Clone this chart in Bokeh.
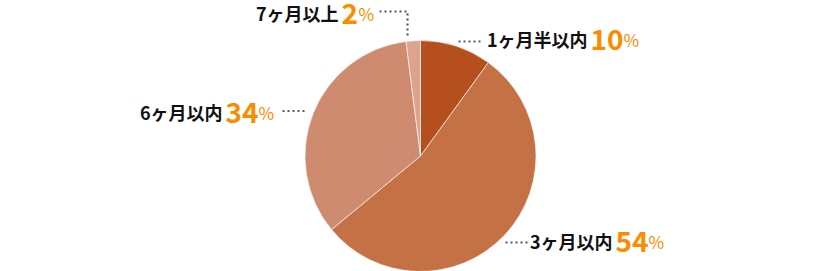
import math
from bokeh.plotting import figure
from bokeh.models import Range1d, ColumnDataSource
from bokeh.core.properties import value
from bokeh.embed import file_html
from bokeh.resources import INLINE

# Data
categories = ["1ヶ月半以内", "3ヶ月以内", "6ヶ月以内", "7ヶ月以上"]
percents = [10, 54, 34, 2]
colors = ["#b5501e", "#c47146", "#cf8b70", "#dea38b"]

W, H = 840, 271
p = figure(width=W, height=H, output_backend="svg", toolbar_location=None,
           x_range=Range1d(0, W), y_range=Range1d(0, H), min_border=0)
p.axis.visible = False
p.grid.visible = False
p.outline_line_color = None
p.background_fill_color = "white"
p.border_fill_color = "white"

def Y(y):
    return H - y

# pie
cx, cy, r = 420, 155.5, 115.5
total = sum(percents)
starts, ends = [], []
acc = 0.0
for v in percents:
    a0 = math.pi / 2 - 2 * math.pi * acc / total
    acc += v
    a1 = math.pi / 2 - 2 * math.pi * acc / total
    starts.append(a0)
    ends.append(a1)
src = ColumnDataSource(dict(start=starts, end=ends, color=colors))
p.wedge(x=cx, y=Y(cy), radius=r, radius_units="screen", start_angle="start", end_angle="end",
        direction="clock", fill_color="color", line_color="white", line_width=0.6, source=src)

# leader lines (layout)
leaders = [
    ([458, 483], [41, 41]),
    ([505, 530], [242, 242]),
    ([282, 307], [110.5, 110.5]),
    ([379, 407, 407], [11, 11, 37]),
]
for xs, ys in leaders:
    p.line(xs, [Y(v) for v in ys], line_color="#4f566b", line_width=2.2,
           line_dash="2 3")

# label layout: (number x, baseline y)
anchors = [(591, 47), (616, 249), (226, 120), (342, 21)]
SHIFT = 9
FONT = value("Noto Sans CJK JP")
ORANGE = "#fa8c00"
for cat, v, (nx, by) in zip(categories, percents, anchors):
    b = Y(by - SHIFT)
    p.text(x=[nx - 4], y=[b], text=[cat], text_font=FONT, text_font_style="bold",
           text_font_size="18px", text_color="#111111", text_align="right",
           text_baseline="alphabetic")
    s = str(v)
    p.text(x=[nx - 1], y=[b - 1], text=[s], text_font=FONT, text_font_style="bold",
           text_font_size="28px", text_color=ORANGE, text_align="left",
           text_baseline="alphabetic")
    p.text(x=[nx + 16 * len(s)], y=[b - 1], text=["%"], text_font=FONT,
           text_font_style="normal", text_font_size="17px", text_color=ORANGE,
           text_align="left", text_baseline="alphabetic")

open("out.html", "w").write(file_html(p, INLINE))
